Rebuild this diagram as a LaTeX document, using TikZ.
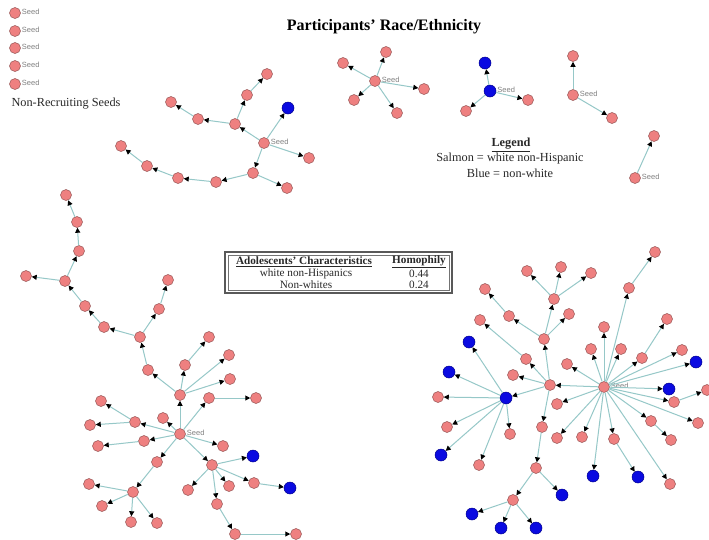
\documentclass[tikz,border=0pt]{standalone}
\usepackage{fontspec}
\setmainfont{Liberation Serif}
\setsansfont{Liberation Sans}
\usetikzlibrary{arrows.meta}
\definecolor{pnfill}{RGB}{238,128,128}
\definecolor{pnline}{RGB}{150,85,85}
\definecolor{bnfill}{RGB}{10,10,225}
\definecolor{bnline}{RGB}{0,0,140}
\definecolor{tiec}{RGB}{150,200,200}
\definecolor{txt}{RGB}{40,40,40}
\tikzset{
  pn/.style={circle, draw=pnline, fill=pnfill, line width=0.5pt, minimum size=11pt, inner sep=0pt},
  bn/.style={circle, draw=bnline, fill=bnfill, line width=0.5pt, minimum size=12pt, inner sep=0pt},
  seedlbl/.style={font=\sffamily\fontsize{7.5}{8}\selectfont, text=gray, inner sep=1pt, yshift=1.5pt},
  sd/.style={label={[seedlbl]0:Seed}},
  tie/.style={draw=tiec, line width=1pt, -{Triangle[color=black,length=5pt,width=5pt]}},
  ttl/.style={font=\fontsize{16}{18}\selectfont\bfseries, text=black},
  note/.style={font=\fontsize{12.3}{14}\selectfont, text=txt},
  tbl/.style={font=\fontsize{11.2}{12}\selectfont, text=txt, inner sep=0pt},
  tblh/.style={font=\fontsize{11.2}{12}\selectfont\bfseries, text=txt, inner sep=0pt}
}
\begin{document}
\begin{tikzpicture}[x=1pt,y=-1pt]
\useasboundingbox[fill=white] (0,0) rectangle (709,539);

% headings and notes
\node[ttl] (title) at (384,27) {Participants' Race/Ethnicity};
\node[note, anchor=west] (nonrec) at (8,104) {Non-Recruiting Seeds};
\node[note, font=\fontsize{12.3}{14}\selectfont\bfseries] (leg) at (511,145) {\underline{Legend}};
\node[note] (leg1) at (510,159) {Salmon = white non-Hispanic};
\node[note] (leg2) at (510,173) {Blue = non-white};

% homophily table
\draw[line width=1.4pt, black!65] (225,252) rectangle (452,293);
\draw[line width=0.4pt, black!55] (228,255) rectangle (449,290);
\node[tblh] (th1) at (304,261.5) {\underline{Adolescents' Characteristics}};
\node[tblh] (th2) at (419,261.5) {\underline{Homophily}};
\node[tbl] (r1a) at (306,273.5) {white non-Hispanics};
\node[tbl] (r1b) at (419,273.5) {0.44};
\node[tbl] (r2a) at (306,285) {Non-whites};
\node[tbl] (r2b) at (419,285) {0.24};

% seeds that recruited nobody
\node[pn,sd] (s1) at (15,13) {};
\node[pn,sd] (s2) at (15,31) {};
\node[pn,sd] (s3) at (15,48) {};
\node[pn,sd] (s4) at (15,66) {};
\node[pn,sd] (s5) at (15,84) {};

% chain A
\node[pn,sd] (a0) at (264,143) {};
\node[bn] (a1) at (288,108) {};
\node[pn] (a2) at (309,158) {};
\node[pn] (a3) at (235,124) {};
\node[pn] (a4) at (247,95) {};
\node[pn] (a5) at (267,74) {};
\node[pn] (a6) at (198,119) {};
\node[pn] (a7) at (171,102) {};
\node[pn] (a8) at (253,173) {};
\node[pn] (a9) at (287,188) {};
\node[pn] (a10) at (216,182) {};
\node[pn] (a11) at (178,178) {};
\node[pn] (a12) at (147,166) {};
\node[pn] (a13) at (121,146) {};
\foreach \u/\v in {a0/a1,a0/a2,a0/a3,a3/a4,a4/a5,a3/a6,a6/a7,a0/a8,a8/a9,a8/a10,a10/a11,a11/a12,a12/a13}
  \draw[tie] (\u) -- (\v);

% chain B
\node[pn,sd] (b0) at (375,81) {};
\node[pn] (b1) at (343,63) {};
\node[pn] (b2) at (386,52) {};
\node[pn] (b3) at (424,89) {};
\node[pn] (b4) at (354,100) {};
\node[pn] (b5) at (397,113) {};
\foreach \v in {b1,b2,b3,b4,b5}
  \draw[tie] (b0) -- (\v);

% chain C
\node[bn,sd] (c0) at (490,91) {};
\node[bn] (c1) at (485,63) {};
\node[pn] (c2) at (528,100) {};
\node[pn] (c3) at (466,111) {};
\foreach \v in {c1,c2,c3}
  \draw[tie] (c0) -- (\v);

% chain D
\node[pn,sd] (d0) at (573,95) {};
\node[pn] (d1) at (573,56) {};
\node[pn] (d2) at (612,118) {};
\foreach \v in {d1,d2}
  \draw[tie] (d0) -- (\v);

% chain E
\node[pn,sd] (e0) at (635,178) {};
\node[pn] (e1) at (654,136) {};
\draw[tie] (e0) -- (e1);

% chain F
\node[pn,sd] (f0) at (180,434) {};
\node[pn] (f1) at (180,395) {};
\node[pn] (f2) at (148,370) {};
\node[pn] (f3) at (185,365) {};
\node[pn] (f4) at (229,355) {};
\node[pn] (f5) at (230,379) {};
\node[pn] (f6) at (140,337) {};
\node[pn] (f7) at (209,337) {};
\node[pn] (f8) at (104,327) {};
\node[pn] (f9) at (85,306) {};
\node[pn] (f10) at (65,281) {};
\node[pn] (f11) at (26,276) {};
\node[pn] (f12) at (79,251) {};
\node[pn] (f13) at (77,222) {};
\node[pn] (f14) at (66,195) {};
\node[pn] (f15) at (159,309) {};
\node[pn] (f16) at (168,280) {};
\node[pn] (f17) at (209,398) {};
\node[pn] (f18) at (256,398) {};
\node[pn] (f19) at (163,418) {};
\node[pn] (f20) at (135,422) {};
\node[pn] (f21) at (101,401) {};
\node[pn] (f22) at (90,425) {};
\node[pn] (f23) at (144,441) {};
\node[pn] (f24) at (98,446) {};
\node[pn] (f25) at (223,446) {};
\node[pn] (f26) at (212,465) {};
\node[bn] (f27) at (253,456) {};
\node[pn] (f28) at (254,483) {};
\node[bn] (f29) at (290,488) {};
\node[pn] (f30) at (229,486) {};
\node[pn] (f31) at (188,490) {};
\node[pn] (f32) at (217,504) {};
\node[pn] (f33) at (235,534) {};
\node[pn] (f34) at (296,534) {};
\node[pn] (f35) at (157,462) {};
\node[pn] (f36) at (133,492) {};
\node[pn] (f37) at (89,484) {};
\node[pn] (f38) at (102,506) {};
\node[pn] (f39) at (131,522) {};
\node[pn] (f40) at (157,523) {};
\foreach \u/\v in {f0/f1,f1/f2,f1/f3,f1/f4,f1/f5,f2/f6,f3/f7,f6/f8,f8/f9,f9/f10,f10/f11,f10/f12,
  f12/f13,f13/f14,f6/f15,f15/f16,f0/f17,f17/f18,f0/f19,f0/f20,f20/f21,f20/f22,f0/f23,f23/f24,
  f0/f25,f0/f26,f26/f27,f26/f28,f28/f29,f26/f30,f26/f31,f26/f32,f32/f33,f33/f34,f0/f35,f35/f36,
  f36/f37,f36/f38,f36/f39,f36/f40}
  \draw[tie] (\u) -- (\v);

% chain G
\node[pn,sd] (g0) at (604,387) {};
\node[pn] (g1) at (629,288) {};
\node[pn] (g2) at (655,252) {};
\node[pn] (g3) at (604,327) {};
\node[pn] (g4) at (591,349) {};
\node[pn] (g5) at (621,349) {};
\node[pn] (g6) at (642,358) {};
\node[pn] (g7) at (667,319) {};
\node[pn] (g8) at (682,350) {};
\node[bn] (g9) at (696,362) {};
\node[bn] (g10) at (669,389) {};
\node[pn] (g11) at (674,402) {};
\node[pn] (g12) at (707,390) {};
\node[pn] (g13) at (698,423) {};
\node[pn] (g14) at (651,421) {};
\node[pn] (g15) at (671,440) {};
\node[pn] (g16) at (670,484) {};
\node[pn] (g17) at (614,439) {};
\node[bn] (g18) at (638,477) {};
\node[bn] (g19) at (593,476) {};
\node[pn] (g20) at (582,437) {};
\node[pn] (g21) at (557,438) {};
\node[pn] (g22) at (557,404) {};
\node[pn] (g23) at (550,385) {};
\node[pn] (g24) at (567,364) {};
\node[bn] (g25) at (506,398) {};
\node[pn] (g26) at (513,375) {};
\node[pn] (g27) at (526,359) {};
\node[pn] (g28) at (480,320) {};
\node[pn] (g29) at (544,339) {};
\node[pn] (g30) at (554,299) {};
\node[pn] (g31) at (527,271) {};
\node[pn] (g32) at (561,267) {};
\node[pn] (g33) at (591,273) {};
\node[pn] (g34) at (569,314) {};
\node[pn] (g35) at (509,316) {};
\node[pn] (g36) at (485,289) {};
\node[pn] (g37) at (542,427) {};
\node[pn] (g38) at (536,468) {};
\node[bn] (g39) at (562,495) {};
\node[pn] (g40) at (513,500) {};
\node[bn] (g41) at (472,514) {};
\node[bn] (g42) at (501,528) {};
\node[bn] (g43) at (536,528) {};
\node[bn] (g44) at (469,342) {};
\node[bn] (g45) at (449,372) {};
\node[pn] (g46) at (438,397) {};
\node[pn] (g47) at (447,427) {};
\node[bn] (g48) at (441,455) {};
\node[pn] (g49) at (479,465) {};
\node[pn] (g50) at (510,434) {};
\foreach \u/\v in {g0/g1,g1/g2,g0/g3,g0/g4,g0/g5,g0/g6,g6/g7,g0/g8,g0/g9,g0/g10,g0/g11,g11/g12,
  g0/g13,g0/g14,g14/g15,g0/g16,g0/g17,g17/g18,g0/g19,g0/g20,g0/g21,g0/g22,g0/g23,g0/g24,
  g23/g25,g23/g26,g23/g27,g27/g28,g23/g29,g29/g30,g30/g31,g30/g32,g30/g33,g29/g34,g29/g35,
  g35/g36,g23/g37,g37/g38,g38/g39,g38/g40,g40/g41,g40/g42,g40/g43,
  g25/g44,g25/g45,g25/g46,g25/g47,g25/g48,g25/g49,g25/g50}
  \draw[tie] (\u) -- (\v);
\end{tikzpicture}
\end{document}
